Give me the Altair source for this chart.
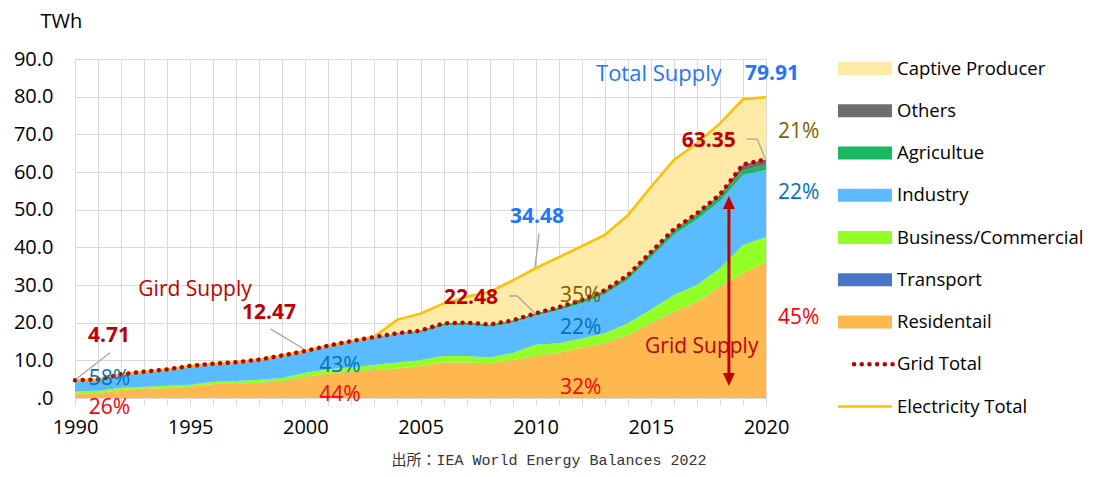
import altair as alt
import pandas as pd

# ---------------- data (TWh) ----------------
years = list(range(1990, 2021))

residential = [1.2, 1.3, 2.1, 2.5, 2.6, 3.0, 3.7, 3.8, 4.0, 4.4,
               5.6, 6.5, 7.0, 7.4, 7.8, 8.5, 9.4, 9.4, 9.2, 10.1,
               11.1, 12.0, 13.4, 14.5, 16.7, 19.8, 22.9, 25.4, 29.5, 33.1, 36.0]
transport = [0.02, 0.02, 0.02, 0.02, 0.02, 0.02, 0.02, 0.02, 0.02, 0.02,
             0.02, 0.02, 0.02, 0.02, 0.02, 0.02, 0.02, 0.02, 0.02, 0.02,
             0.02, 0.02, 0.02, 0.02, 0.02, 0.02, 0.02, 0.02, 0.02, 0.02, 0.02]
business = [0.6, 0.6, 0.6, 0.5, 0.6, 0.5, 0.6, 0.7, 0.8, 0.9,
            1.1, 1.1, 1.1, 1.4, 1.6, 1.6, 1.7, 1.7, 1.5, 1.8,
            3.0, 2.5, 2.4, 2.7, 3.1, 3.7, 4.4, 4.6, 4.9, 7.5, 6.7]
industry = [2.75, 2.85, 3.45, 3.85, 4.25, 4.85, 4.65, 4.85, 5.25, 5.85,
            5.55, 6.1, 6.8, 7.2, 7.45, 7.35, 8.15, 8.35, 8.25, 8.15,
            7.75, 8.8, 9.25, 10.3, 11.6, 13.8, 16.0, 17.4, 17.8, 18.6, 17.8]
agriculture = [0.1, 0.1, 0.1, 0.1, 0.1, 0.1, 0.1, 0.1, 0.1, 0.1,
               0.15, 0.15, 0.15, 0.15, 0.3, 0.4, 0.5, 0.5, 0.5, 0.5,
               0.6, 0.7, 0.8, 0.9, 1.0, 1.1, 1.2, 1.2, 1.3, 1.2, 1.4]
others = [0.05, 0.05, 0.05, 0.05, 0.05, 0.05, 0.05, 0.05, 0.05, 0.05,
          0.05, 0.05, 0.05, 0.05, 0.05, 0.05, 0.05, 0.05, 0.05, 0.05,
          0.05, 0.1, 0.15, 0.2, 0.2, 0.3, 0.3, 0.4, 0.5, 1.6, 1.45]
grid_total = [4.71, 4.9, 6.3, 7.0, 7.6, 8.5, 9.1, 9.5, 10.2, 11.3,
              12.47, 13.9, 15.1, 16.2, 17.2, 17.9, 19.8, 20.0, 19.5, 20.6,
              22.48, 24.1, 26.0, 28.6, 32.6, 38.7, 44.8, 49.0, 54.0, 62.0, 63.35]
electricity_total = [4.71, 4.9, 6.3, 7.0, 7.6, 8.5, 9.1, 9.5, 10.2, 11.3,
                     12.47, 13.9, 15.1, 16.3, 20.8, 22.4, 25.1, 26.9, 28.2, 31.2,
                     34.48, 37.4, 40.3, 43.3, 48.5, 56.0, 63.2, 67.6, 72.9, 79.3, 79.91]

sector_names = ["Residentail", "Transport", "Business/Commercial", "Industry",
                "Agricultue", "Others"]
captive_name = "Captive Producer"
legend_names = ["Captive Producer", "Others", "Agricultue", "Industry",
                "Business/Commercial", "Transport", "Residentail",
                "Grid Total", "Electricity Total"]

# annotations: (text, year, TWh)
bold_blue_labels = [("79.91", 2019.09, 85.9), ("34.48", 2008.89, 48.1)]
bold_red_labels = [("63.35", 2016.34, 68.1), ("22.48", 2006.02, 26.6),
                   ("12.47", 1997.25, 22.6), ("4.71", 1990.56, 16.5)]
total_supply_labels = [("Total Supply", 2012.62, 86.0)]
grid_supply_labels = [("Gird Supply", 1992.75, 28.7), ("Grid Supply", 2014.75, 13.6)]
blue_pct_labels = [("58%", 1990.6, 5.0), ("43%", 2000.6, 8.5),
                   ("22%", 2011.06, 18.7), ("22%", 2020.52, 54.3)]
red_pct_labels = [("26%", 1990.6, -2.65), ("44%", 2000.6, 0.8),
                  ("32%", 2011.06, 2.65), ("45%", 2020.52, 21.2)]
brown_pct_labels = [("35%", 2011.06, 27.2), ("21%", 2020.52, 70.7)]

# leader lines: list of polylines [(year, TWh), ...]
leader_lines = [
    [(1990.04, 4.96), (1991.52, 12.03)],
    [(1998.50, 18.3), (1999.94, 13.0)],
    [(2010.15, 43.7), (2009.97, 34.7)],
    [(2008.86, 27.08), (2009.2, 27.08), (2009.97, 22.48)],
    [(2019.16, 68.75), (2019.62, 68.75), (2019.96, 63.6)],
]
arrow_year = 2018.39
arrow_top = 53.6
arrow_bottom = 3.2

source_text = "出所：IEA World Energy Balances 2022"

# ---------------- tables ----------------
sector_values = [residential, transport, business, industry, agriculture, others]
rows = []
base = [0.0 for _ in years]
for name, vals in zip(sector_names, sector_values):
    for i, yr in enumerate(years):
        rows.append({"year": yr, "series": name, "lo": base[i], "hi": base[i] + vals[i]})
    base = [b + v for b, v in zip(base, vals)]
for i, yr in enumerate(years):
    rows.append({"year": yr, "series": captive_name, "lo": base[i], "hi": electricity_total[i]})
area_df = pd.DataFrame(rows)

tot_df = pd.DataFrame({"year": years, "grid": grid_total, "elec": electricity_total})

lead_rows = []
for s, pts in enumerate(leader_lines):
    for o, (x, y) in enumerate(pts):
        lead_rows.append({"seg": s, "ord": o, "x": x, "y": y})
lead_df = pd.DataFrame(lead_rows)

def lab_df(items):
    return pd.DataFrame([{"label": t, "x": x, "y": y} for t, x, y in items])

FONT = "Open Sans"

series_domain = ["Captive Producer", "Others", "Agricultue", "Industry",
                 "Business/Commercial", "Transport", "Residentail"]
color_scale = alt.Scale(domain=series_domain,
                        range=["#FFE699", "#595959", "#00B050", "#4DB5FF",
                               "#8CFF1A", "#4472C4", "#FFB850"])
opacity_scale = alt.Scale(domain=series_domain,
                          range=[0.85, 1.0, 1.0, 0.85, 0.85, 1.0, 0.85])

x_scale = alt.Scale(domain=[1990, 2020], nice=False, zero=False)
y_scale = alt.Scale(domain=[0, 90], nice=False)
x_axis = alt.Axis(values=years, format="d",
                  labelExpr="datum.value % 5 === 0 ? datum.label : ''",
                  grid=True, gridColor="#D9D9D9", gridWidth=1,
                  tickColor="#D9D9D9", tickSize=7, tickWidth=1,
                  domainColor="#D9D9D9", labelFontSize=20, labelFont=FONT,
                  labelColor="#000000", labelPadding=12, labelFlush=False,
                  labelOverlap=False, labelBound=False, title=None)
y_axis = alt.Axis(values=[0, 10, 20, 30, 40, 50, 60, 70, 80, 90],
                  labelExpr="datum.value === 0 ? '.0' : format(datum.value, '.1f')",
                  grid=True, gridColor="#D9D9D9", gridWidth=1, ticks=False,
                  domain=False, labelFontSize=20, labelFont=FONT,
                  labelColor="#000000", labelPadding=22,
                  title="TWh", titleAngle=0, titleAlign="left",
                  titleBaseline="middle", titleX=-35, titleY=-38,
                  titleFontSize=20, titleFont=FONT, titleFontWeight="normal",
                  titleColor="#000000")

def X(f):
    return alt.X(f"{f}:Q", scale=x_scale, axis=x_axis)

def Y(f):
    return alt.Y(f"{f}:Q", scale=y_scale, axis=y_axis)

areas = alt.Chart(area_df).mark_area(interpolate="linear").encode(
    x=X("year"), y=Y("hi"), y2="lo",
    color=alt.Color("series:N", scale=color_scale, legend=None),
    opacity=alt.Opacity("series:N", scale=opacity_scale, legend=None),
)

elec_line = alt.Chart(tot_df).mark_line(color="#FFC000", strokeWidth=2.5).encode(
    x=X("year"), y=Y("elec"))
grid_line = alt.Chart(tot_df).mark_line(color="#C00000", strokeWidth=4.5,
                                        strokeDash=[0.1, 7.6], strokeCap="round").encode(
    x=X("year"), y=Y("grid"))

leaders = alt.Chart(lead_df).mark_line(color="#A6A6A6", strokeWidth=1.3).encode(
    x=X("x"), y=Y("y"), detail="seg:N", order="ord:Q")

arrow_df = pd.DataFrame({"x": [arrow_year], "lo": [arrow_bottom], "hi": [arrow_top]})
arrow_rule = alt.Chart(arrow_df).transform_calculate(
    a="datum.lo + 2", b="datum.hi - 2").mark_rule(
    color="#C00000", strokeWidth=3).encode(x=X("x"), y=Y("a"), y2="b")
arrow_up = alt.Chart(arrow_df).mark_point(
    shape="M0,0L-0.46,1L0.46,1Z", filled=True, size=676, color="#C00000",
    opacity=1, strokeWidth=0).encode(x=X("x"), y=Y("hi"))
arrow_down = alt.Chart(arrow_df).mark_point(
    shape="M0,0L-0.46,-1L0.46,-1Z", filled=True, size=676, color="#C00000",
    opacity=1, strokeWidth=0).encode(x=X("x"), y=Y("lo"))

def text_layer(items, color, size, weight="normal"):
    return alt.Chart(lab_df(items)).mark_text(
        align="left", baseline="middle", font=FONT, fontSize=size,
        fontWeight=weight, color=color).encode(x=X("x"), y=Y("y"), text="label:N")

texts = [
    text_layer(bold_blue_labels, "#1F75FE", 21, "bold"),
    text_layer(bold_red_labels, "#C00000", 21, "bold"),
    text_layer(total_supply_labels, "#1F75FE", 22),
    text_layer(grid_supply_labels, "#C00000", 21),
    text_layer(blue_pct_labels, "#0070C0", 21),
    text_layer(red_pct_labels, "#FF0000", 21),
    text_layer(brown_pct_labels, "#806000", 21),
]

main = alt.layer(areas, elec_line, grid_line, leaders, arrow_rule, arrow_up,
                 arrow_down, *texts)

# ---------------- legend ----------------
leg_df = pd.DataFrame({"name": legend_names, "idx": list(range(len(legend_names)))})
leg_y = alt.Y("idx:Q", scale=alt.Scale(domain=[0, 8], range=[9.5, 347.5]), axis=None)

leg_rects = alt.Chart(leg_df).transform_filter(
    alt.FieldOneOfPredicate(field="name", oneOf=series_domain)).mark_rule(
    strokeWidth=13, strokeCap="butt").encode(
    x=alt.value(763), x2=alt.value(817), y=leg_y,
    color=alt.Color("name:N", scale=color_scale, legend=None),
    opacity=alt.Opacity("name:N", scale=opacity_scale, legend=None))
leg_grid = alt.Chart(leg_df).transform_filter("datum.name === 'Grid Total'").mark_rule(
    color="#C00000", strokeWidth=4.5, strokeDash=[0.1, 7.6], strokeCap="round").encode(
    x=alt.value(779), x2=alt.value(818), y=leg_y)
leg_elec = alt.Chart(leg_df).transform_filter("datum.name === 'Electricity Total'").mark_rule(
    color="#FFC000", strokeWidth=2.5).encode(
    x=alt.value(763), x2=alt.value(817), y=leg_y)
leg_text = alt.Chart(leg_df).mark_text(
    align="left", baseline="middle", font=FONT, fontSize=18.5, color="#000000").encode(
    x=alt.value(822), y=leg_y, text="name:N")

src = alt.Chart(pd.DataFrame({"t": [source_text]})).mark_text(
    align="center", baseline="bottom", font="Liberation Mono, Noto Sans CJK JP",
    fontSize=15, color="#333333").encode(
    x=alt.value(474), y=alt.value(409), text="t:N")

legend_part = alt.layer(leg_rects, leg_grid, leg_elec, leg_text, src)

chart = alt.layer(main, legend_part).resolve_scale(y="independent").properties(
    width=691, height=339,
    autosize=alt.AutoSizeParams(type="none"),
    padding={"left": 67, "top": 51, "right": 330, "bottom": 71},
).configure_view(stroke=None).configure(background="white")

chart.save("out.html", embed_options={"renderer": "svg", "actions": False})
